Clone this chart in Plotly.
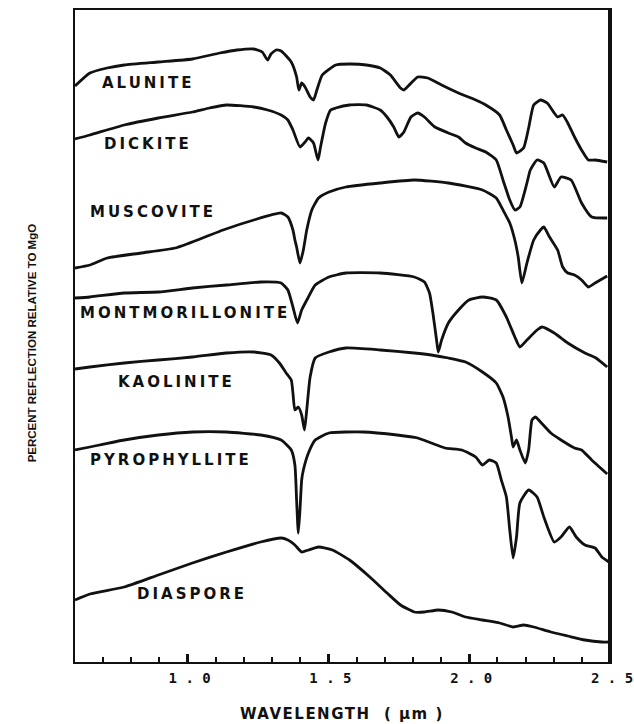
import plotly.graph_objects as go

# ---------------- data (wavelength in micrometres, relative reflectance in arbitrary offset units) ----
alunite_wl = [0.60, 0.653, 0.714, 0.775, 0.896, 1.017, 1.114, 1.175, 1.235, 1.265, 1.284, 1.296, 1.314, 1.332,
              1.368, 1.387, 1.395, 1.405, 1.417, 1.435, 1.447, 1.459, 1.478, 1.526, 1.575, 1.635, 1.684, 1.720,
              1.756, 1.768, 1.787, 1.817, 1.853, 1.902, 1.962, 2.023, 2.059, 2.108, 2.132, 2.156, 2.168, 2.193,
              2.211, 2.229, 2.253, 2.277, 2.302, 2.314, 2.332, 2.350, 2.374, 2.399, 2.423, 2.447, 2.49]
alunite_r = [57.6, 58.9, 59.4, 59.7, 60.0, 60.3, 60.9, 61.2, 61.3, 61.0, 60.2, 60.8, 61.2, 61.1,
             60.0, 58.5, 57.2, 57.9, 57.5, 56.5, 56.2, 57.2, 58.7, 59.7, 59.8, 59.7, 59.4, 58.7,
             57.4, 57.2, 57.7, 58.5, 58.4, 57.7, 56.9, 56.2, 55.7, 54.7, 53.2, 51.7, 50.9, 51.4,
             53.4, 55.7, 56.2, 55.9, 54.9, 54.5, 54.7, 53.9, 52.5, 51.2, 50.2, 50.2, 50.0]

dickite_wl = [0.60, 0.653, 0.775, 0.896, 1.017, 1.078, 1.138, 1.235, 1.284, 1.332, 1.356, 1.374, 1.399, 1.417,
              1.429, 1.447, 1.463, 1.472, 1.490, 1.508, 1.526, 1.575, 1.635, 1.684, 1.708, 1.732, 1.750, 1.768,
              1.793, 1.817, 1.841, 1.878, 1.926, 1.962, 1.987, 2.023, 2.059, 2.096, 2.120, 2.144, 2.162, 2.180,
              2.205, 2.217, 2.241, 2.265, 2.302, 2.326, 2.362, 2.399, 2.435, 2.49]
dickite_r = [52.3, 52.7, 53.7, 54.4, 55.0, 55.4, 55.7, 55.5, 55.2, 54.7, 54.2, 53.2, 51.5, 52.0,
             52.4, 51.9, 50.2, 51.5, 53.9, 55.2, 55.4, 55.7, 55.7, 55.2, 54.5, 53.5, 52.5, 53.0,
             54.5, 54.9, 54.5, 53.5, 52.9, 52.5, 51.9, 51.4, 51.0, 50.2, 48.2, 46.2, 45.2, 45.5,
             47.9, 49.2, 50.2, 49.9, 47.5, 48.5, 48.2, 45.9, 44.5, 44.4]

muscovite_wl = [0.60, 0.653, 0.714, 0.835, 0.956, 1.053, 1.126, 1.235, 1.332, 1.356, 1.374, 1.381, 1.387, 1.399,
                1.411, 1.423, 1.441, 1.465, 1.502, 1.562, 1.684, 1.805, 1.926, 2.047, 2.096, 2.120, 2.144, 2.162,
                2.174, 2.187, 2.205, 2.229, 2.253, 2.265, 2.283, 2.314, 2.332, 2.350, 2.374, 2.399, 2.423, 2.447,
                2.49]
muscovite_r = [39.4, 39.7, 40.4, 40.9, 41.4, 42.4, 43.2, 44.2, 44.9, 44.5, 43.2, 42.2, 41.5, 39.9,
               41.2, 43.2, 45.2, 46.4, 47.0, 47.5, 47.9, 48.2, 47.9, 47.2, 46.4, 45.2, 43.9, 42.2,
               40.5, 37.9, 39.9, 42.2, 43.2, 43.5, 42.6, 41.2, 39.5, 38.9, 38.7, 38.2, 37.5, 37.9,
               38.6]

montmorillonite_wl = [0.60, 0.653, 0.775, 0.896, 1.017, 1.138, 1.259, 1.332, 1.356, 1.374, 1.390, 1.405, 1.429,
                      1.453, 1.502, 1.562, 1.684, 1.805, 1.841, 1.859, 1.871, 1.884, 1.890, 1.902, 1.926, 1.962,
                      1.999, 2.047, 2.096, 2.132, 2.162, 2.180, 2.205, 2.241, 2.259, 2.302, 2.350, 2.411, 2.45,
                      2.49]
montmorillonite_r = [36.4, 36.5, 36.9, 37.0, 37.4, 37.7, 38.0, 37.9, 37.2, 35.5, 33.9, 35.2, 36.5,
                     37.7, 38.5, 38.9, 38.9, 38.5, 38.0, 36.9, 34.9, 32.2, 31.0, 32.2, 33.9, 35.2,
                     36.2, 36.5, 36.2, 34.5, 32.5, 31.5, 32.2, 33.2, 33.5, 32.9, 31.9, 30.9, 30.4,
                     29.5]

kaolinite_wl = [0.60, 0.653, 0.775, 0.896, 1.017, 1.138, 1.235, 1.296, 1.326, 1.350, 1.368, 1.374, 1.381, 1.393,
                1.405, 1.415, 1.423, 1.435, 1.453, 1.502, 1.562, 1.684, 1.805, 1.865, 1.926, 1.987, 2.047, 2.096,
                2.120, 2.138, 2.150, 2.156, 2.168, 2.180, 2.199, 2.211, 2.223, 2.235, 2.253, 2.290, 2.326, 2.374,
                2.399, 2.435, 2.49]
kaolinite_r = [29.3, 29.5, 29.9, 30.2, 30.5, 30.9, 31.0, 30.7, 29.9, 28.9, 28.2, 26.9, 25.2, 25.5,
               24.7, 23.2, 25.2, 28.5, 30.4, 31.0, 31.4, 31.2, 30.9, 30.7, 30.4, 30.0, 29.0, 27.9,
               26.5, 24.5, 22.5, 21.5, 22.2, 21.2, 19.9, 21.2, 24.2, 24.5, 24.0, 22.9, 22.2, 21.4,
               21.2, 20.2, 18.8]

pyrophyllite_wl = [0.60, 0.653, 0.775, 0.896, 1.017, 1.138, 1.259, 1.332, 1.368, 1.381, 1.387, 1.393, 1.399,
                   1.405, 1.411, 1.429, 1.453, 1.502, 1.623, 1.744, 1.817, 1.865, 1.914, 1.974, 2.023, 2.047,
                   2.071, 2.096, 2.114, 2.132, 2.144, 2.156, 2.168, 2.180, 2.211, 2.241, 2.265, 2.302, 2.326,
                   2.356, 2.380, 2.411, 2.447, 2.471, 2.496]
pyrophyllite_r = [21.2, 21.5, 22.2, 22.7, 23.0, 23.0, 22.7, 22.2, 21.2, 19.7, 16.2, 12.9, 15.2,
                  18.2, 19.2, 20.9, 22.2, 22.9, 23.0, 22.7, 22.4, 21.9, 21.4, 21.2, 20.5, 19.7,
                  20.2, 19.9, 18.2, 16.5, 13.2, 10.4, 12.5, 15.9, 17.2, 16.5, 14.5, 12.0, 12.5,
                  13.5, 12.5, 11.7, 11.4, 10.5, 10.0]

diaspore_wl = [0.60, 0.653, 0.775, 0.896, 1.017, 1.138, 1.259, 1.332, 1.356, 1.381, 1.405, 1.429, 1.465,
               1.514, 1.575, 1.647, 1.708, 1.756, 1.805, 1.841, 1.890, 1.938, 1.987, 2.047, 2.108, 2.156,
               2.193, 2.229, 2.290, 2.350, 2.411, 2.471, 2.50]
diaspore_r = [6.2, 6.8, 7.5, 8.7, 9.9, 11.0, 12.0, 12.4, 12.2, 11.7, 11.0, 11.2, 11.5,
              11.2, 10.2, 8.5, 6.9, 5.7, 5.0, 5.0, 5.2, 5.0, 4.5, 4.2, 3.9, 3.5,
              3.7, 3.5, 3.0, 2.6, 2.2, 2.0, 2.0]

mineral_names = ["ALUNITE", "DICKITE", "MUSCOVITE", "MONTMORILLONITE", "KAOLINITE", "PYROPHYLLITE", "DIASPORE"]
major_ticks = [1.0, 1.5, 2.0, 2.5]
major_labels = ["1 . 0", "1 . 5", "2 . 0", "2 . 5"]
minor_ticks = [0.7, 0.8, 0.9, 1.1, 1.2, 1.3, 1.4, 1.6, 1.7, 1.8, 1.9, 2.1, 2.2, 2.3, 2.4]

series = [
    (alunite_wl, alunite_r),
    (dickite_wl, dickite_r),
    (muscovite_wl, muscovite_r),
    (montmorillonite_wl, montmorillonite_r),
    (kaolinite_wl, kaolinite_r),
    (pyrophyllite_wl, pyrophyllite_r),
    (diaspore_wl, diaspore_r),
]

# label placement (x in micrometres, y in reflectance units)
label_pos = [(0.689, 57.9), (0.696, 51.8), (0.646, 45.0), (0.611, 34.9),
             (0.746, 28.0), (0.646, 20.2), (0.813, 6.8)]

fig = go.Figure()
for (wl, r), name in zip(series, mineral_names):
    fig.add_trace(go.Scatter(
        x=wl, y=r, mode="lines", name=name, showlegend=False, hoverinfo="skip",
        line=dict(color="#111111", width=2.8, shape="spline", smoothing=0.5),
    ))

annotations = []
for name, (lx, ly) in zip(mineral_names, label_pos):
    annotations.append(dict(
        x=lx, y=ly, xref="x", yref="y", xanchor="left", yanchor="middle",
        text='<span style="letter-spacing:3px">' + name + '</span>', showarrow=False,
        font=dict(family="DejaVu Sans", size=15, color="#111111", weight="bold"),
    ))

annotations.append(dict(
    x=-0.080, y=0.489, xref="paper", yref="paper", xanchor="center", yanchor="middle",
    text="PERCENT REFLECTION RELATIVE TO MgO", textangle=-90, showarrow=False,
    font=dict(family="Liberation Sans, Arial, sans-serif", size=11.5, color="#111111", weight="bold"),
))
annotations.append(dict(
    x=0.499, y=-0.0625, xref="paper", yref="paper", xanchor="center", yanchor="top",
    text='<span style="letter-spacing:1.5px">WAVELENGTH  ( µm )</span>', showarrow=False,
    font=dict(family="DejaVu Sans", size=15, color="#111111", weight="bold"),
))

fig.update_layout(
    width=634, height=724,
    margin=dict(l=75, r=24, t=10, b=62, autoexpand=False),
    paper_bgcolor="white", plot_bgcolor="white",
    font=dict(family="DejaVu Sans", color="#111111"),
    annotations=annotations,
    shapes=[dict(type="line", xref="paper", yref="paper", x0=1, x1=1, y0=0, y1=1,
                 line=dict(color="#111111", width=4))],
    xaxis=dict(
        range=[0.6, 2.5], showgrid=False, zeroline=False, automargin=False,
        showline=True, linecolor="#111111", linewidth=2, mirror=True,
        ticks="inside", ticklen=8, tickwidth=2.5, tickcolor="#111111",
        tickmode="array", tickvals=major_ticks, ticktext=major_labels,
        tickfont=dict(family="DejaVu Sans Mono", size=14, color="#111111", weight="bold"),
        ticklabelshift=2, ticklabelstandoff=2, ticklabeloverflow="allow",
        minor=dict(tickmode="array", tickvals=minor_ticks, ticks="inside",
                   ticklen=5, tickwidth=2, tickcolor="#111111"),
    ),
    yaxis=dict(
        range=[0, 65.2], showgrid=False, zeroline=False, showticklabels=False, automargin=False,
        showline=True, linecolor="#111111", linewidth=2, mirror=True, ticks="",
    ),
)

fig.write_html("out.html")
